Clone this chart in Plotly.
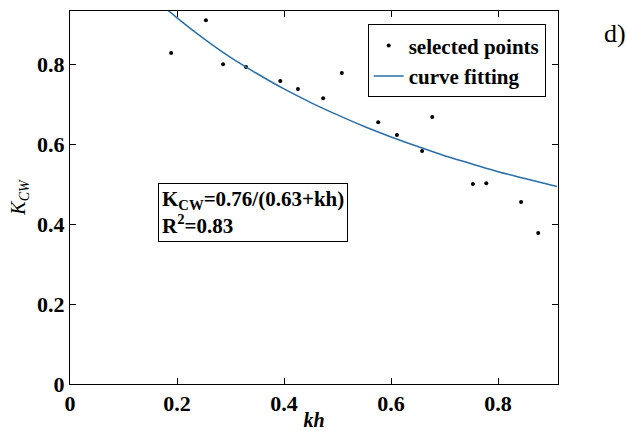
import plotly.graph_objects as go

# Selected points
kh_pts = [0.189, 0.254, 0.286, 0.329, 0.393, 0.426, 0.473, 0.508, 0.576, 0.611, 0.658, 0.677, 0.753, 0.778, 0.843, 0.875]
kcw_pts = [0.828, 0.910, 0.800, 0.793, 0.758, 0.738, 0.715, 0.778, 0.655, 0.623, 0.583, 0.668, 0.500, 0.502, 0.455, 0.378]

# Fitted curve, values
kh_fit = [0.17, 0.2, 0.25, 0.3, 0.35, 0.4, 0.45, 0.5, 0.55, 0.6, 0.65, 0.7, 0.75, 0.8, 0.85, 0.91]
kcw_fit = [0.950, 0.916, 0.864, 0.817, 0.776, 0.738, 0.704, 0.673, 0.644, 0.618, 0.594, 0.571, 0.551, 0.531, 0.514, 0.494]

x_ticks = [0, 0.2, 0.4, 0.6, 0.8]
y_ticks = [0, 0.2, 0.4, 0.6, 0.8]
tick_text = ["0", "0.2", "0.4", "0.6", "0.8"]

SERIF = "Liberation Serif, Times New Roman, serif"
BLUE = "#2a6fa8"

fig = go.Figure()
fig.add_trace(go.Scatter(
    x=kh_pts, y=kcw_pts, mode="markers", name="selected points",
    marker=dict(color="black", size=4),
))
fig.add_trace(go.Scatter(
    x=kh_fit, y=kcw_fit, mode="lines", name="curve fitting",
    line=dict(color=BLUE, width=1.5, shape="spline"),
))

axis_common = dict(
    showline=True, linecolor="black", linewidth=1, mirror="ticks",
    ticks="inside", ticklen=6, tickcolor="black", tickwidth=1,
    showgrid=False, zeroline=False, automargin=False,
    tickfont=dict(family=SERIF, size=22, color="black", weight="bold"),
)

fig.update_layout(
    width=626, height=431,
    margin=dict(l=70, r=68, t=11, b=47),
    paper_bgcolor="white", plot_bgcolor="white",
    xaxis=dict(range=[0, 0.912], tickvals=x_ticks, ticktext=tick_text,
               title=dict(text="<i>kh</i>", font=dict(family=SERIF, size=20, color="black", weight="bold"), standoff=0),
               **axis_common),
    yaxis=dict(range=[0, 0.933], tickvals=y_ticks, ticktext=tick_text,
               title=dict(text="<i>K<sub>CW</sub></i>", font=dict(family=SERIF, size=20, color="black"), standoff=6),
               **axis_common),
    legend=dict(
        x=0.61, y=0.964, xanchor="left", yanchor="top",
        bordercolor="black", borderwidth=1, bgcolor="white",
        font=dict(family=SERIF, size=21, color="black", weight="bold"),
        tracegroupgap=0, itemwidth=30,
    ),
    showlegend=True,
    annotations=[
        dict(
            text="K<sub>CW</sub>=0.76/(0.63+kh)<br>R<sup>2</sup>=0.83",
            xref="paper", yref="paper", x=0.18, y=0.538, xanchor="left", yanchor="top",
            showarrow=False, align="left",
            font=dict(family=SERIF, size=21, color="black", weight="bold"),
            bordercolor="black", borderwidth=1, borderpad=3, bgcolor="white",
        ),
        dict(
            text="d)", xref="paper", yref="paper", x=1.09, y=0.94,
            xanchor="left", yanchor="middle", showarrow=False,
            font=dict(family=SERIF, size=26, color="black"),
        ),
    ],
)

fig.write_html("out.html")
